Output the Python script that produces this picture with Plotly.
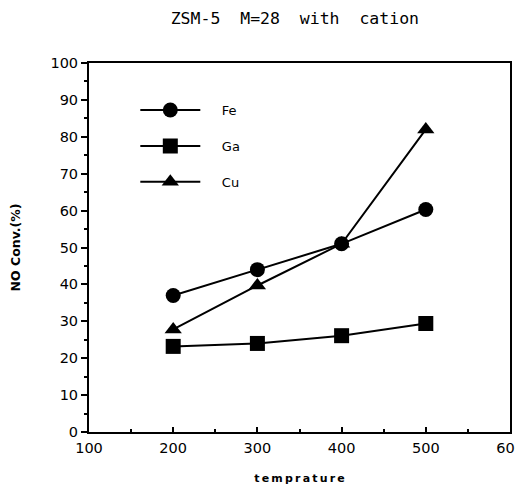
import plotly.graph_objects as go

temperature = [200, 300, 400, 500]
fe = [37, 44, 51, 60.3]
ga = [23.2, 24, 26.1, 29.4]
cu = [27.8, 39.7, 51, 82]

title = "ZSM-5  M=28  with  cation"
x_label = "t\u2009e\u2009m\u2009p\u2009r\u2009a\u2009t\u2009u\u2009r\u2009e"
y_label = "NO Conv.(%)"

series = [
    ("Fe", fe, "circle"),
    ("Ga", ga, "square"),
    ("Cu", cu, "triangle-up"),
]

fig = go.Figure()
for i, (name, vals, sym) in enumerate(series):
    fig.add_trace(go.Scatter(
        x=temperature, y=vals, name="    " + name, mode="lines+markers",
        legendgroup=str(i),
        line=dict(color="black", width=2),
        marker=dict(symbol=sym, size=15, color="black"),
    ))

font_family = "DejaVu Sans"
fig.update_layout(
    width=515, height=477,
    margin=dict(l=81, r=13, t=55, b=53, autoexpand=False),
    paper_bgcolor="white", plot_bgcolor="white",
    showlegend=True,
    title=dict(text=title, x=0.557, xanchor="center", y=0.979, yanchor="middle",
               font=dict(family="DejaVu Sans Mono", size=16.5, color="black")),
    legend=dict(x=0.11, y=0.913, xanchor="left", yanchor="top",
                bgcolor="rgba(0,0,0,0)", tracegroupgap=16, itemwidth=60,
                font=dict(family=font_family, size=13, color="black")),
    font=dict(family=font_family, color="black"),
)
fig.update_xaxes(
    range=[100, 600], dtick=100, tick0=100, automargin=False,
    ticklabeloverflow="allow", ticklabelstandoff=2,
    showgrid=False, zeroline=False, showline=True, linecolor="black", linewidth=2,
    mirror=True, ticks="inside", ticklen=5, tickcolor="black", tickwidth=1.5,
    minor=dict(dtick=50, ticks="inside", ticklen=3, tickcolor="black"),
    tickfont=dict(size=14.5, family=font_family, color="black"),
    title=dict(text=x_label, standoff=23, font=dict(size=11, family=font_family, color="black", weight="bold")),
)
fig.update_yaxes(
    range=[0, 100], dtick=10, automargin=False,
    showgrid=False, zeroline=False, showline=True, linecolor="black", linewidth=2,
    mirror=True, ticks="outside", ticklen=6, tickcolor="black", tickwidth=1.5,
    minor=dict(dtick=5, ticks="outside", ticklen=3, tickcolor="black"),
    tickfont=dict(size=14.5, family=font_family, color="black"),
    title=dict(text=y_label, standoff=32, font=dict(size=12.5, family=font_family, color="black", weight="bold")),
)

fig.write_html("out.html")
